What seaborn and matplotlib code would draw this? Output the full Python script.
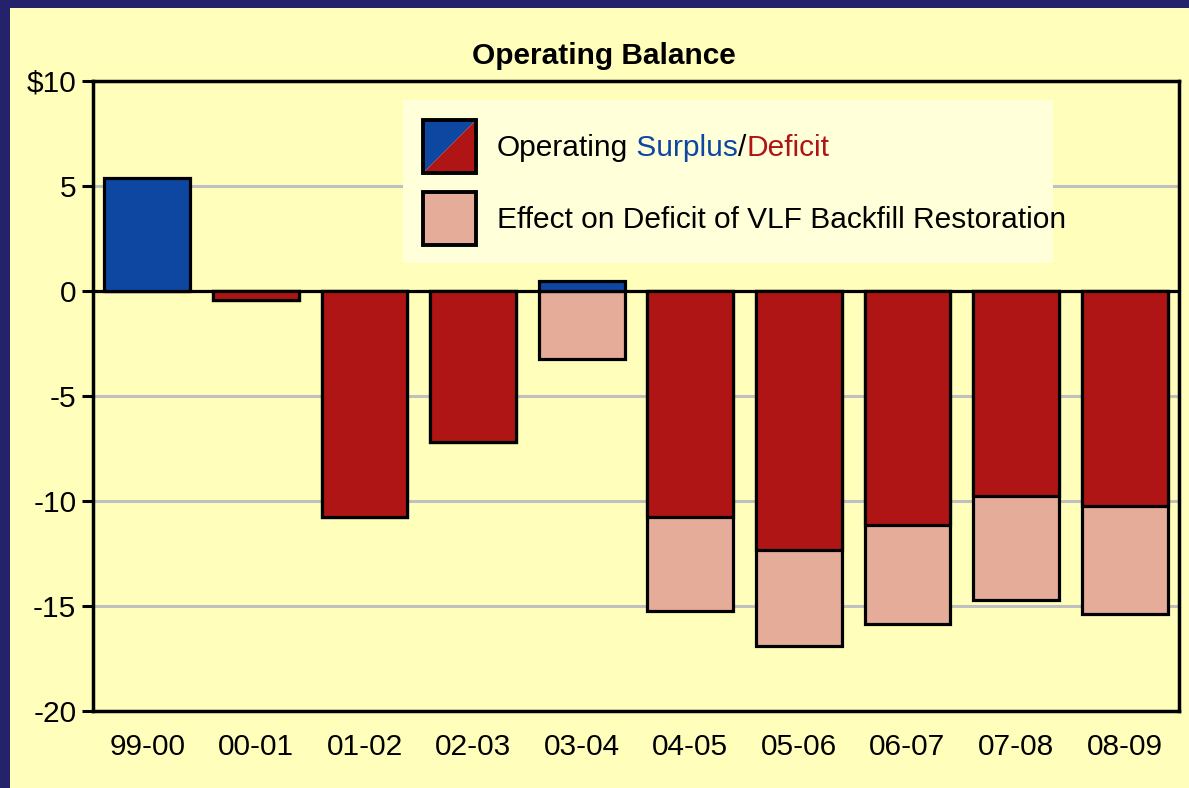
import pandas as pd
import seaborn as sns
import matplotlib.pyplot as plt
from matplotlib.patches import Rectangle, Polygon, Patch

# fiscal years and balances (millions)
periods = ['99-00', '00-01', '01-02', '02-03', '03-04',
           '04-05', '05-06', '06-07', '07-08', '08-09']
operating = [5.4, -0.45, -10.75, -7.2, 0.5, -10.75, -12.35, -11.15, -9.75, -10.25]
vlf_effect = [0, 0, 0, 0, -3.25, -4.5, -4.55, -4.7, -4.95, -5.15]

y_ticks = [-20, -15, -10, -5, 0, 5, 10]
y_labels = ['-20', '-15', '-10', '-5', '0', '5', r'\$10']

navy = '#23226A'
yellow = '#FFFFBB'
legend_bg = '#FFFFD9'
blue = '#0D47A1'
red = '#B01515'
pink = '#E5AC9A'
fs = 21.5

df = pd.DataFrame({'period': periods, 'operating': operating, 'vlf': vlf_effect})
df['total'] = df['operating'].clip(upper=0) + df['vlf']
bar_colors = [blue if v > 0 else red for v in df['operating']]

sns.set_theme(style='white')
plt.rcParams['font.family'] = ['Liberation Sans', 'DejaVu Sans']
plt.rcParams['text.color'] = 'black'

fig = plt.figure(figsize=(11.89, 7.88), dpi=100, facecolor=navy)
fig.add_artist(Rectangle((10 / 1189, 0), 1, 780 / 788, transform=fig.transFigure,
                         facecolor=yellow, edgecolor='none', zorder=-10))
ax = fig.add_axes([93 / 1189, 77 / 788, 1086 / 1189, 630 / 788])
ax.set_facecolor(yellow)

# pink (VLF effect) drawn first, operating bars on top
sns.barplot(data=df, x='period', y='total', color=pink, saturation=1,
            edgecolor='black', linewidth=2.3, width=0.79, errorbar=None, ax=ax)
sns.barplot(data=df, x='period', y='operating', hue='period', palette=bar_colors,
            saturation=1, edgecolor='black', linewidth=2.3, width=0.79,
            errorbar=None, legend=False, ax=ax)

ax.axhline(0, color='black', lw=2.3, zorder=0.9)
ax.set_ylim(-20, 10)
ax.set_yticks(y_ticks)
ax.set_yticklabels(y_labels)
ax.set_xlabel('')
ax.set_ylabel('')
ax.grid(axis='y', color='#C0C0C0', lw=2.2)
ax.set_axisbelow(True)
for s in ax.spines.values():
    s.set_color('black')
    s.set_linewidth(2.5)
ax.tick_params(axis='y', length=8, width=2.2, color='black', pad=4, labelsize=fs,
               left=True, direction='out')
ax.tick_params(axis='x', length=0, pad=16, labelsize=fs)
for t in ax.get_xticklabels() + ax.get_yticklabels():
    t.set_color('black')

fig.text(604 / 1189, 1 - 56 / 788, 'Operating Balance', ha='center', va='center',
         fontsize=fs, fontweight='bold', color='black')

# legend background box (text overflows it, as in the original)
ax.add_patch(Rectangle((0.2855, 0.711), 0.5985, 0.259, transform=ax.transAxes,
                       facecolor=legend_bg, edgecolor='none', zorder=4))


class SplitHandler:
    def legend_artist(self, legend, orig_handle, fontsize, handlebox):
        x0, y0 = -handlebox.xdescent, -handlebox.ydescent
        w, h = handlebox.width, handlebox.height
        tr = handlebox.get_transform()
        up = Polygon([[x0, y0], [x0, y0 + h], [x0 + w, y0 + h]], closed=True,
                     facecolor=blue, edgecolor='none', transform=tr)
        lo = Polygon([[x0, y0], [x0 + w, y0], [x0 + w, y0 + h]], closed=True,
                     facecolor=red, edgecolor='none', transform=tr)
        frame = Rectangle((x0, y0), w, h, facecolor='none', edgecolor='black',
                          lw=2.8, transform=tr)
        for p in (up, lo, frame):
            handlebox.add_artist(p)
        return frame


split = object()
pink_patch = Patch(facecolor=pink, edgecolor='black', linewidth=2.8)
leg = ax.legend([split, pink_patch],
                ['Operating', 'Effect on Deficit of VLF Backfill Restoration'],
                handler_map={split: SplitHandler()}, frameon=False,
                loc='upper left', bbox_to_anchor=(0.3039, 0.938), borderaxespad=0,
                borderpad=0, fontsize=fs, handlelength=1.77, handleheight=2.35,
                handletextpad=0.7, labelspacing=0.64, labelcolor='black')
leg.set_zorder(5)

t1 = leg.get_texts()[0]
a1 = ax.annotate(' Surplus', xy=(1, 0), xycoords=t1, va='bottom', ha='left',
                 fontsize=fs, color=blue, zorder=6)
a2 = ax.annotate('/', xy=(1, 0), xycoords=a1, va='bottom', ha='left',
                 fontsize=fs, color='black', zorder=7)
a3 = ax.annotate('Deficit', xy=(1, 0), xycoords=a2, va='bottom', ha='left',
                 fontsize=fs, color=red, zorder=8)

fig.savefig('out.png', dpi=100, facecolor=navy)
